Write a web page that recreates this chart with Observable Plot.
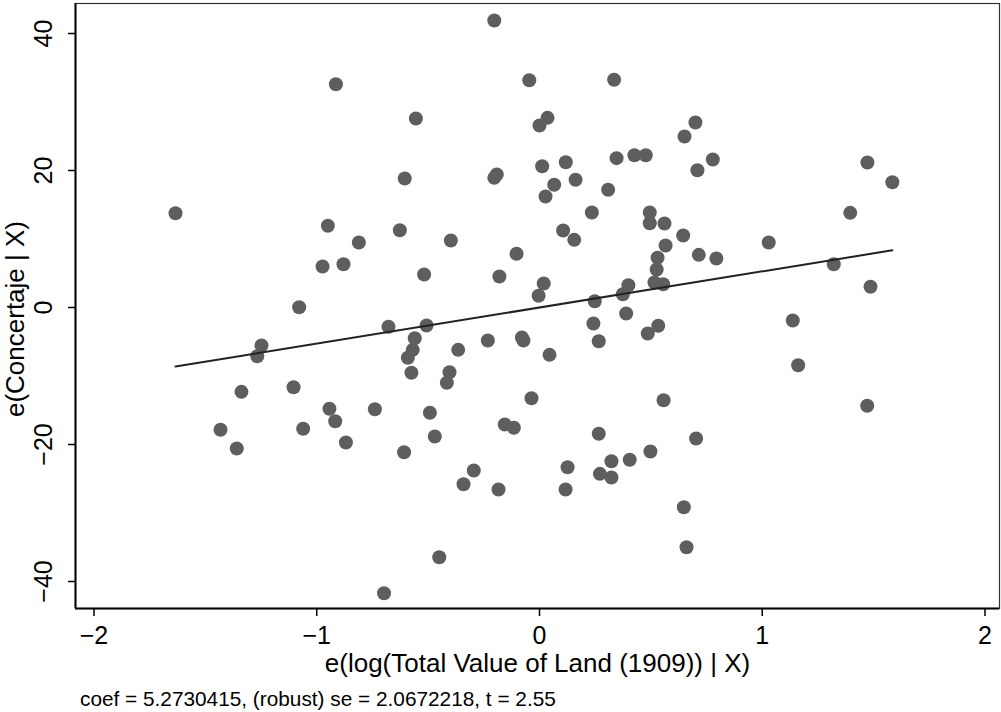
<!DOCTYPE html>
<html>
<head>
<meta charset="utf-8">
<script src="https://cdn.jsdelivr.net/npm/d3@7"></script>
<script src="https://cdn.jsdelivr.net/npm/@observablehq/plot@0.6"></script>
<style>
  html, body { margin: 0; padding: 0; background: #fff; }
  #chart { width: 1001px; height: 712px; overflow: hidden; font-family: "Liberation Sans", Arial, sans-serif; }
  #chart figure { margin: 0; padding: 0; }
  #chart svg { display: block; }
  #chart figcaption { margin: 0; padding: 0 0 0 80px; height: 27px; line-height: 27px; font-size: 20.8px; color: #000; font-family: "Liberation Sans", Arial, sans-serif; }
</style>
</head>
<body>
<div id="chart"></div>
<script>
// Residual of log(Total Value of Land (1909)) given X
const residX = [
  -1.634, -1.432, -1.359, -1.338, -1.267, -1.248, -1.104, -1.079, -1.061, -0.974,
  -0.950, -0.943, -0.914, -0.917, -0.880, -0.869, -0.811, -0.739, -0.698, -0.678,
  -0.627, -0.608, -0.605, -0.591, -0.575, -0.569, -0.560, -0.555, -0.518, -0.507,
  -0.492, -0.470, -0.450, -0.416, -0.404, -0.398, -0.365, -0.341, -0.295, -0.232,
  -0.203, -0.192, -0.203, -0.180, -0.184, -0.156, -0.115, -0.103, -0.079, -0.072,
  -0.046, -0.036, -0.004, 0.000, 0.012, 0.019, 0.027, 0.036, 0.045, 0.066,
  0.106, 0.118, 0.126, 0.117, 0.156, 0.162, 0.235, 0.242, 0.248, 0.266,
  0.266, 0.271, 0.308, 0.323, 0.323, 0.335, 0.346, 0.374, 0.389, 0.399,
  0.405, 0.426, 0.477, 0.486, 0.495, 0.495, 0.498, 0.516, 0.526, 0.530,
  0.533, 0.555, 0.557, 0.561, 0.566, 0.645, 0.651, 0.648, 0.660, 0.700,
  0.703, 0.709, 0.715, 0.778, 0.794, 1.029, 1.137, 1.161, 1.321, 1.395,
  1.472, 1.471, 1.486, 1.584
];
// Residual of Concertaje given X
const residY = [
  13.77, -17.85, -20.58, -12.31, -7.11, -5.55, -11.64, 0.04, -17.71, 5.99,
  11.93, -14.79, 32.60, -16.60, 6.32, -19.71, 9.49, -14.85, -41.71, -2.82,
  11.28, -21.12, 18.83, -7.34, -9.53, -6.18, -4.48, 27.59, 4.82, -2.63,
  -15.37, -18.83, -36.45, -10.99, -9.45, 9.78, -6.18, -25.80, -23.80, -4.82,
  18.93, 19.42, 41.90, 4.53, -26.57, -17.08, -17.56, 7.84, -4.38, -4.82,
  33.18, -13.24, 1.71, 26.57, 20.63, 3.50, 16.20, 27.69, -6.91, 17.91,
  11.24, 21.21, -23.31, -26.57, 9.88, 18.64, 13.87, -2.34, 0.92, -4.92,
  -18.44, -24.28, 17.18, -22.44, -24.82, 33.24, 21.80, 1.94, -0.88, 3.26,
  -22.23, 22.23, 22.23, -3.80, 13.87, 12.31, -21.02, 3.65, 5.55, 7.26,
  -2.67, 3.40, -13.53, 12.26, 9.05, 10.51, 24.96, -29.15, -34.99, 27.01,
  -19.12, 20.04, 7.69, 21.61, 7.15, 9.49, -1.90, -8.42, 6.32, 13.82,
  21.17, -14.35, 3.02, 18.29
];
const xTicks = [-2, -1, 0, 1, 2];
const yTicks = [-40, -20, 0, 20, 40];
const coef = 5.2730415;
const xLabel = "e(log(Total Value of Land (1909)) | X)";
const yLabel = "e(Concertaje | X)";
const captionText = "coef = 5.2730415, (robust) se = 2.0672218, t = 2.55";

const points = residX.map((x, i) => ({x, y: residY[i]}));
const fit = d3.extent(residX).map(x => ({x, y: coef * x}));
const fmt = d => (d < 0 ? "\u2212" + Math.abs(d) : String(d));
const xDomain = [-2.083, 2.065];
const yDomain = [-43.94, 44.38];
const font = "'Liberation Sans', Arial, sans-serif";

const chart = Plot.plot({
  width: 1001,
  height: 685,
  marginLeft: 75,
  marginRight: 2,
  marginTop: 3,
  marginBottom: 77,
  style: {fontFamily: font, fontSize: "25px", color: "#000", background: "#fff", overflow: "visible"},
  x: {domain: xDomain},
  y: {domain: yDomain},
  caption: captionText,
  marks: [
    Plot.frame({stroke: "#333", strokeWidth: 1.2}),
    Plot.dot(points, {x: "x", y: "y", r: 7, fill: "#5e5e5e", stroke: "none"}),
    Plot.line(fit, {x: "x", y: "y", stroke: "#222", strokeWidth: 2}),
    Plot.ruleX([xDomain[0]], {stroke: "#000", strokeWidth: 2}),
    Plot.ruleY([yDomain[0]], {stroke: "#000", strokeWidth: 2}),
    Plot.axisX({ticks: xTicks, tickSize: 8, tickFormat: () => "", label: null, stroke: "#000", strokeWidth: 1.5}),
    Plot.axisY({ticks: yTicks, tickSize: 7, tickFormat: () => "", label: null, stroke: "#000", strokeWidth: 1.5}),
    Plot.text(xTicks, {x: d => d, frameAnchor: "bottom", dy: 27, text: fmt, lineAnchor: "middle", textAnchor: "middle", fontSize: 25, fill: "#000"}),
    Plot.text(yTicks, {y: d => d, frameAnchor: "left", dx: -32, rotate: -90, text: fmt, lineAnchor: "middle", textAnchor: "middle", fontSize: 25, fill: "#000"}),
    Plot.text([xLabel], {frameAnchor: "bottom", dy: 55, text: d => d, lineAnchor: "middle", textAnchor: "middle", fontSize: 26, fill: "#000"}),
    Plot.text([yLabel], {frameAnchor: "left", dx: -60, dy: 13, rotate: -90, text: d => d, lineAnchor: "middle", textAnchor: "middle", fontSize: 26, fill: "#000"})
  ]
});
document.getElementById("chart").appendChild(chart);
</script>
</body>
</html>
